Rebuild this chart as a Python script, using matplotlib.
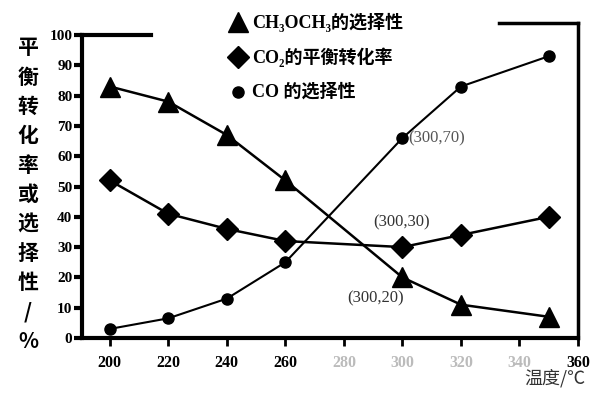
import matplotlib
matplotlib.use("Agg")
import matplotlib.pyplot as plt

# Data
temps = [200, 220, 240, 260, 300, 320, 350]
dme_sel = [83, 78, 67, 52, 20, 11, 7]
co2_conv = [52, 41, 36, 32, 30, 34, 40]
co_sel = [3, 6.5, 13, 25, 66, 83, 93]
xticks = [200, 220, 240, 260, 280, 300, 320, 340, 360]
yticks = list(range(0, 101, 10))

num_font = ['Liberation Serif', 'Noto Sans CJK SC']
cjk_font = ['Noto Sans CJK SC', 'DejaVu Sans']

fig = plt.figure(figsize=(6.03, 3.94), dpi=100)
ax = fig.add_axes([82/603, 1-338/394, (578-82)/603, (338-35)/394])
ax.set_xlim(190.5, 360)
ax.set_ylim(0, 100)

ax.plot(temps, dme_sel, color='black', lw=1.8, marker='^', ms=15, zorder=3)
ax.plot(temps, co2_conv, color='black', lw=1.8, marker='D', ms=11, zorder=3)
ax.plot(temps, co_sel, color='black', lw=1.5, marker='o', ms=8, zorder=3)

for s in ['top', 'right']:
    ax.spines[s].set_visible(False)
for s in ['left', 'bottom']:
    ax.spines[s].set_linewidth(3)
# partial top / right frame lines
ax.plot([190.5, 214], [100, 100], color='black', lw=3, clip_on=False)
ax.plot([333, 360], [104, 104], color='black', lw=2.5, clip_on=False)
ax.plot([360, 360], [104, 0], color='black', lw=2.5, clip_on=False)

ax.set_yticks(yticks)
ax.set_yticklabels([str(v) for v in yticks], fontfamily=num_font,
                   fontweight='bold', fontsize=11)
ax.set_xticks(xticks)
ax.set_xticklabels([str(v) for v in xticks], fontfamily=num_font,
                   fontweight='bold', fontsize=11.5)
for lab in ax.get_xticklabels()[4:8]:
    lab.set_color('#bbbbbb')
ax.tick_params(axis='y', direction='out', length=6, width=3, pad=1)
ax.tick_params(axis='x', direction='out', length=6, width=2, pad=6)

# y-axis title (stacked characters)
ylab = "平衡转化率或选择性/%"
for i, ch in enumerate(ylab):
    ypx = 48 + i * 29.3
    fig.text(28/603, 1 - ypx/394, ch, ha='center', va='center', fontsize=15,
             fontweight='bold', family=cjk_font)
fig.text(585/603, 1 - 378/394, "温度/℃", ha='right', va='center',
         fontsize=13, family=cjk_font, color='#333333')

# legend
legend_items = [('^', 15, "CH₃OCH₃的选择性", 22),
                ('D', 11, "CO₂的平衡转化率", 57),
                ('o', 8, "CO 的选择性", 92)]
for mk, ms, txt, ypx in legend_items:
    fy = 1 - ypx/394
    fig.lines.append(plt.Line2D([238/603], [fy], marker=mk, ms=ms,
                                color='black', transform=fig.transFigure))
    fig.text(252/603, fy, txt, ha='left', va='center', fontsize=13,
             fontweight='bold', family=['Liberation Serif', 'Noto Sans CJK SC'])

# annotations
ax.annotate("(300,70)", xy=(300, co_sel[4]), xytext=(4, 0),
            textcoords='offset points', ha='left', va='center', fontsize=12,
            family=num_font, color='#555555')
ax.text(290, 38, "(300,30)", ha='left', va='center', fontsize=12,
        family=num_font, color='#333333')
ax.text(281, 13, "(300,20)", ha='left', va='center', fontsize=12,
        family=num_font, color='#333333')

fig.savefig("out.png", dpi=100)
